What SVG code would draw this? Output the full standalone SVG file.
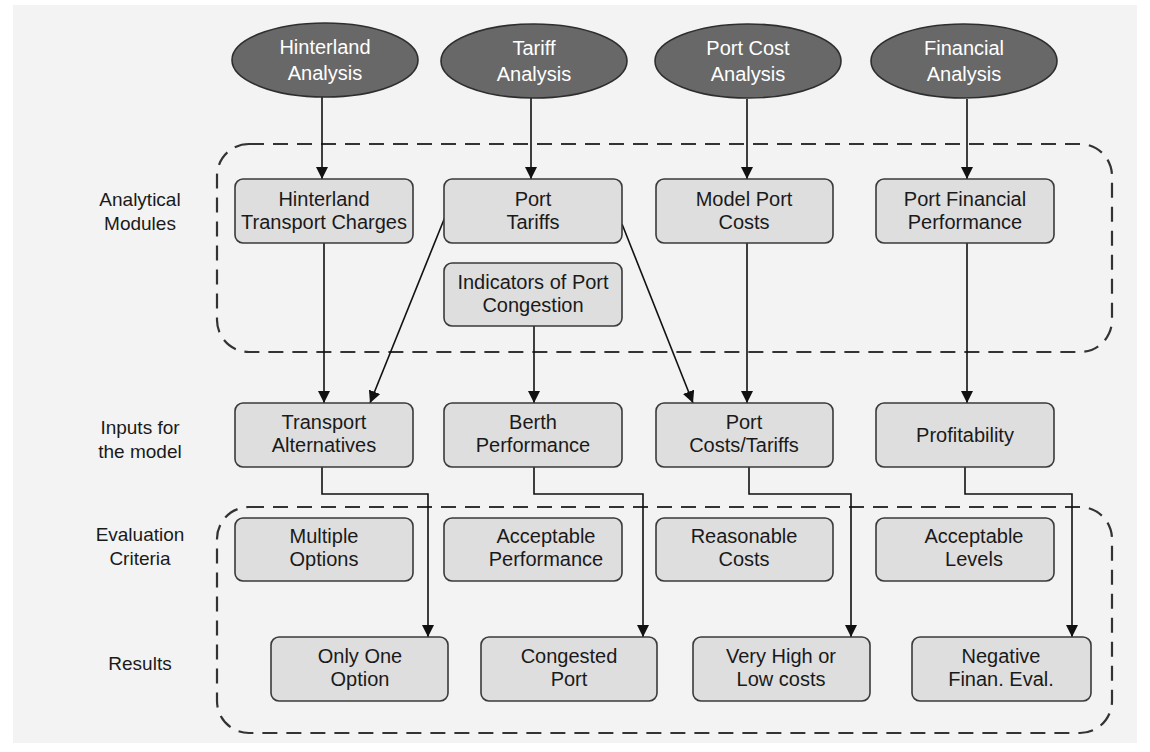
<svg xmlns="http://www.w3.org/2000/svg" width="1150" height="752" viewBox="0 0 1150 752">
<defs>
<style>
.box{fill:#dedede;stroke:#3a3a3a;stroke-width:1.6}
.ell{fill:#686868;stroke:#2e2e2e;stroke-width:1.6}
.t{font-family:"Liberation Sans",Arial,sans-serif;font-size:20px;fill:#1a1a1a;text-anchor:middle}
.w{font-family:"Liberation Sans",Arial,sans-serif;font-size:20px;fill:#ffffff;text-anchor:middle}
.lab{font-family:"Liberation Sans",Arial,sans-serif;font-size:19px;fill:#1a1a1a;text-anchor:middle}
.dash{fill:none;stroke:#333;stroke-width:2.2;stroke-dasharray:15 9}
.con{fill:none;stroke:#111;stroke-width:1.6}
</style>
<marker id="ah" viewBox="0 0 10 10" refX="10" refY="5" markerWidth="12" markerHeight="12" markerUnits="userSpaceOnUse" orient="auto">
<path d="M0,0 L10,5 L0,10 z" fill="#111"/>
</marker>
</defs>
<rect x="0" y="0" width="1150" height="752" fill="#ffffff"/>
<rect x="13" y="5" width="1124" height="738" fill="#f3f3f3"/>

<g id="containers">
<rect class="dash" x="217" y="144" width="895" height="208" rx="32" ry="32"/>
<rect class="dash" x="217" y="507" width="895" height="226" rx="32" ry="32"/>
</g>

<g id="labels">
<text class="lab" x="140" y="206">Analytical</text>
<text class="lab" x="140" y="230">Modules</text>
<text class="lab" x="140" y="434">Inputs for</text>
<text class="lab" x="140" y="458">the model</text>
<text class="lab" x="140" y="541">Evaluation</text>
<text class="lab" x="140" y="565">Criteria</text>
<text class="lab" x="140" y="670">Results</text>
</g>

<g id="connectors">
<line class="con" x1="322" y1="97" x2="322" y2="179" marker-end="url(#ah)"/>
<line class="con" x1="531" y1="98" x2="531" y2="179" marker-end="url(#ah)"/>
<line class="con" x1="747" y1="99" x2="747" y2="179" marker-end="url(#ah)"/>
<line class="con" x1="967" y1="99" x2="967" y2="179" marker-end="url(#ah)"/>
<line class="con" x1="324" y1="243" x2="324" y2="403" marker-end="url(#ah)"/>
<line class="con" x1="445" y1="217" x2="370" y2="403" marker-end="url(#ah)"/>
<line class="con" x1="622" y1="224" x2="693" y2="403" marker-end="url(#ah)"/>
<line class="con" x1="534" y1="326" x2="534" y2="403" marker-end="url(#ah)"/>
<line class="con" x1="747" y1="243" x2="747" y2="403" marker-end="url(#ah)"/>
<line class="con" x1="967" y1="243" x2="967" y2="403" marker-end="url(#ah)"/>
<polyline class="con" points="322,467 322,494 428,494 428,637" marker-end="url(#ah)"/>
<polyline class="con" points="534,467 534,494 643,494 643,637" marker-end="url(#ah)"/>
<polyline class="con" points="749,467 749,494 851,494 851,637" marker-end="url(#ah)"/>
<polyline class="con" points="965,467 965,494 1072,494 1072,637" marker-end="url(#ah)"/>
</g>

<g id="hinterland-analysis"><ellipse class="ell" cx="325" cy="60" rx="93" ry="37"/><text class="w" x="325" y="54">Hinterland</text><text class="w" x="325" y="80">Analysis</text></g>
<g id="tariff-analysis"><ellipse class="ell" cx="534" cy="61" rx="93" ry="37"/><text class="w" x="534" y="55">Tariff</text><text class="w" x="534" y="81">Analysis</text></g>
<g id="port-cost-analysis"><ellipse class="ell" cx="748" cy="61" rx="93" ry="37"/><text class="w" x="748" y="55">Port Cost</text><text class="w" x="748" y="81">Analysis</text></g>
<g id="financial-analysis"><ellipse class="ell" cx="964" cy="61" rx="93" ry="37"/><text class="w" x="964" y="55">Financial</text><text class="w" x="964" y="81">Analysis</text></g>

<g id="hinterland-transport-charges"><rect class="box" x="235" y="179" width="178" height="64" rx="8"/><text class="t" x="324" y="206">Hinterland</text><text class="t" x="324" y="229">Transport Charges</text></g>
<g id="port-tariffs"><rect class="box" x="444" y="179" width="178" height="64" rx="8"/><text class="t" x="533" y="206">Port</text><text class="t" x="533" y="229">Tariffs</text></g>
<g id="model-port-costs"><rect class="box" x="656" y="179" width="177" height="64" rx="8"/><text class="t" x="744" y="206">Model Port</text><text class="t" x="744" y="229">Costs</text></g>
<g id="port-financial-performance"><rect class="box" x="876" y="179" width="178" height="64" rx="8"/><text class="t" x="965" y="206">Port Financial</text><text class="t" x="965" y="229">Performance</text></g>
<g id="indicators-congestion"><rect class="box" x="444" y="263" width="178" height="63" rx="8"/><text class="t" x="533" y="289">Indicators of Port</text><text class="t" x="533" y="312">Congestion</text></g>

<g id="transport-alternatives"><rect class="box" x="235" y="403" width="178" height="64" rx="8"/><text class="t" x="324" y="429">Transport</text><text class="t" x="324" y="452">Alternatives</text></g>
<g id="berth-performance"><rect class="box" x="444" y="403" width="178" height="64" rx="8"/><text class="t" x="533" y="429">Berth</text><text class="t" x="533" y="452">Performance</text></g>
<g id="port-costs-tariffs"><rect class="box" x="656" y="403" width="177" height="64" rx="8"/><text class="t" x="744" y="429">Port</text><text class="t" x="744" y="452">Costs/Tariffs</text></g>
<g id="profitability"><rect class="box" x="876" y="403" width="178" height="64" rx="8"/><text class="t" x="965" y="442">Profitability</text></g>

<g id="multiple-options"><rect class="box" x="235" y="518" width="178" height="63" rx="8"/><text class="t" x="324" y="543">Multiple</text><text class="t" x="324" y="566">Options</text></g>
<g id="acceptable-performance"><rect class="box" x="444" y="518" width="178" height="63" rx="8"/><text class="t" x="546" y="543">Acceptable</text><text class="t" x="546" y="566">Performance</text></g>
<g id="reasonable-costs"><rect class="box" x="656" y="518" width="177" height="63" rx="8"/><text class="t" x="744" y="543">Reasonable</text><text class="t" x="744" y="566">Costs</text></g>
<g id="acceptable-levels"><rect class="box" x="876" y="518" width="178" height="63" rx="8"/><text class="t" x="974" y="543">Acceptable</text><text class="t" x="974" y="566">Levels</text></g>

<g id="only-one-option"><rect class="box" x="271" y="637" width="177" height="64" rx="8"/><text class="t" x="360" y="663">Only One</text><text class="t" x="360" y="686">Option</text></g>
<g id="congested-port"><rect class="box" x="481" y="637" width="176" height="64" rx="8"/><text class="t" x="569" y="663">Congested</text><text class="t" x="569" y="686">Port</text></g>
<g id="very-high-low-costs"><rect class="box" x="693" y="637" width="177" height="64" rx="8"/><text class="t" x="781" y="663">Very High or</text><text class="t" x="781" y="686">Low costs</text></g>
<g id="negative-finan-eval"><rect class="box" x="912" y="637" width="179" height="64" rx="8"/><text class="t" x="1001" y="663">Negative</text><text class="t" x="1001" y="686">Finan. Eval.</text></g>
</svg>
